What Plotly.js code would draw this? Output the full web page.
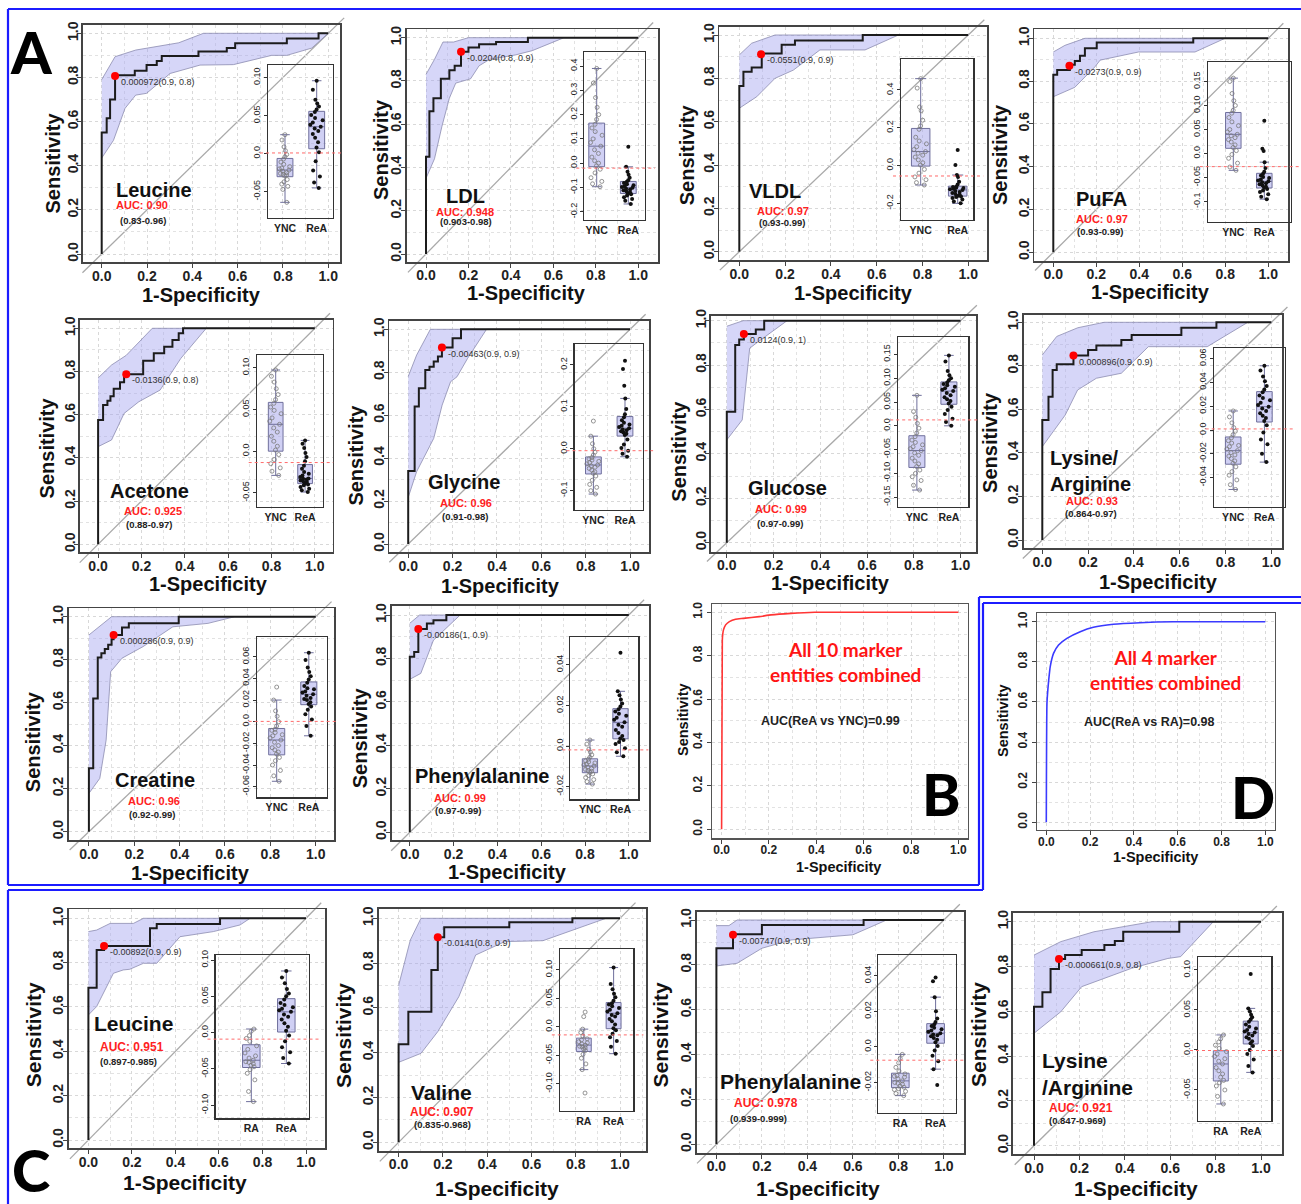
<!DOCTYPE html>
<html><head><meta charset="utf-8">
<script src="https://cdn.plot.ly/plotly-3.0.1.min.js"></script>
<style>html,body{margin:0;padding:0;background:#fff}#chart{width:1301px;height:1204px}</style>
</head><body><div id="chart"></div>
<script>
// ================= DATA =================
// 14 single-marker ROC panels: 10 in block A (ReA vs YNC), 4 in block C (ReA vs RA)
const markerNames = ['Leucine','LDL','VLDL','PuFA','Acetone','Glycine','Glucose','Lysine/<br>Arginine','Creatine','Phenylalanine',
                     'Leucine','Valine','Phenylalanine','Lysine<br>/Arginine'];
const aucLabels = ['AUC: 0.90','AUC: 0.948','AUC: 0.97','AUC: 0.97','AUC: 0.925','AUC: 0.96','AUC: 0.99','AUC: 0.93','AUC: 0.96','AUC: 0.99',
                   'AUC: 0.951','AUC: 0.907','AUC: 0.978','AUC: 0.921'];
const ciLabels = ['(0.83-0.96)','(0.903-0.98)','(0.93-0.99)','(0.93-0.99)','(0.88-0.97)','(0.91-0.98)','(0.97-0.99)','(0.864-0.97)','(0.92-0.99)','(0.97-0.99)',
                  '(0.897-0.985)','(0.835-0.968)','(0.939-0.999)','(0.847-0.969)'];
const groupNamesA = ['YNC','ReA'];
const groupNamesC = ['RA','ReA'];

// ROC step curves (1-specificity, sensitivity)
const rocFpr = [
 [0,0,0.022,0.037,0.059,0.146,0.198,0.243,0.265,0.427,0.552,0.589,0.817,0.957,1],
 [0,0,0.016,0.035,0.07,0.11,0.135,0.165,0.2,0.25,0.33,0.48,1],
 [0,0,0.018,0.054,0.098,0.185,0.243,0.539,1],
 [0,0,0.018,0.077,0.1,0.124,0.147,0.202,0.651,1],
 [0,0,0.023,0.043,0.057,0.072,0.101,0.12,0.13,0.208,0.257,0.305,0.343,0.372,0.392,1],
 [0,0,0.029,0.048,0.077,0.096,0.115,0.134,0.152,0.2,0.238,1],
 [0,0,0.036,0.053,0.073,0.124,0.16,1],
 [0,0,0.027,0.045,0.063,0.136,0.2,0.236,0.345,0.39,0.607,0.76,1],
 [0,0,0.019,0.039,0.055,0.07,0.085,0.1,0.109,0.146,0.176,0.396,1],
 [0,0,0.02,0.039,0.078,0.108,0.167,1],
 [0,0,0.038,0.072,0.283,0.314,0.605,1],
 [0,0,0.044,0.148,0.177,0.206,0.5,0.785,1],
 [0,0,0.073,0.2,0.647,1],
 [0,0,0.037,0.073,0.11,0.137,0.21,0.31,0.356,0.393,0.64,1]
];
const rocTpr = [
 [0,0.55,0.615,0.70,0.81,0.83,0.856,0.874,0.897,0.918,0.933,0.955,0.977,1,1],
 [0,0.45,0.66,0.72,0.81,0.85,0.87,0.935,0.955,0.97,0.98,1,1],
 [0,0.765,0.83,0.85,0.915,0.955,0.975,1,1],
 [0,0.83,0.852,0.876,0.894,0.918,0.954,0.98,1,1],
 [0,0.575,0.645,0.665,0.685,0.72,0.75,0.775,0.787,0.85,0.884,0.915,0.946,0.977,1,1],
 [0,0.34,0.64,0.725,0.81,0.826,0.85,0.873,0.915,0.958,1,1],
 [0,0.59,0.89,0.915,0.94,0.96,1,1],
 [0,0.551,0.658,0.781,0.807,0.847,0.873,0.893,0.919,0.942,0.975,1,1],
 [0,0.295,0.62,0.81,0.83,0.85,0.87,0.895,0.915,0.95,0.97,1,1],
 [0,0.808,0.83,0.936,0.961,0.976,1,1],
 [0,0.687,0.857,0.875,0.955,0.974,1,1],
 [0,0.4375,0.583,0.769,0.915,0.96,0.982,1,1],
 [0,0.874,0.936,0.978,1,1],
 [0,0.62,0.685,0.789,0.833,0.851,0.874,0.896,0.914,0.955,1,1]
];
// Confidence band of sensitivity: upper and lower edges
const ciUpX = [
 [0,0.059,0.15,0.34,0.449,1],[0,0.04,0.08,0.13,0.2,1],[0,0.054,0.156,1],[0,0.054,0.147,1],
 [0,0.062,0.13,0.25,1],[0,0.038,0.1,1],[0,0.07,1],[0,0.063,0.155,0.27,1],[0,0.1,1],[0,0.045,1],
 [0,0.038,0.1,0.207,0.253,1],[0,0.053,0.101,1],[0,0.055,0.091,1],[0,0.118,0.264,0.43,0.52,1]
];
const ciUpY = [
 [0.79,0.894,0.924,0.957,1,1],[0.83,0.9,0.98,0.98,1,1],[0.908,0.962,1,1],[0.936,0.967,1,1],
 [0.77,0.83,0.875,1,1],[0.78,0.88,1,1],[0.975,1,1],[0.85,0.935,0.975,1,1],[0.915,1,1],[0.962,1,1],
 [0.94,0.947,0.977,0.977,1,1],[0.7,0.903,1,1],[0.975,0.975,1,1],[0.851,0.911,0.955,0.985,1,1]
];
const ciLoX = [
 [0,0.052,0.103,0.15,0.198,0.302,0.434,0.581,0.75,0.817,0.927,1],
 [0,0.04,0.075,0.11,0.14,0.21,0.25,0.3,0.42,0.5,0.65,1],
 [0,0.076,0.156,0.236,0.352,0.549,0.695,1],
 [0,0.1,0.194,0.218,0.396,0.659,0.799,1],
 [0,0.062,0.12,0.188,0.286,0.382,0.499,1],
 [0,0.038,0.115,0.153,0.191,0.22,0.268,0.353,1],
 [0,0.066,0.098,0.134,0.258,1],
 [0,0.1,0.154,0.236,0.345,0.463,0.72,0.897,1],
 [0,0.048,0.076,0.096,0.146,0.239,0.37,0.525,0.643,1],
 [0,0.05,0.108,0.23,1],
 [0,0.038,0.115,0.16,0.19,0.253,0.314,0.421,0.574,0.697,0.743,1],
 [0,0.101,0.177,0.272,0.348,0.48,0.652,0.937,1],
 [0,0.091,0.2,0.328,0.6,0.748,1],
 [0,0.118,0.21,0.29,0.43,0.59,0.646,0.79,1]
];
const ciLoY = [
 [0.435,0.515,0.66,0.72,0.728,0.818,0.856,0.858,0.9,0.9,0.933,1],
 [0.35,0.44,0.59,0.72,0.79,0.81,0.87,0.9,0.92,0.94,1,1],
 [0.662,0.715,0.8,0.838,0.931,0.931,1,1],
 [0.727,0.771,0.867,0.898,0.936,0.936,1,1],
 [0.452,0.483,0.606,0.66,0.714,0.861,1,1],
 [0.217,0.337,0.492,0.647,0.756,0.779,0.865,1,1],
 [0.463,0.553,0.876,0.905,1,1],
 [0.429,0.574,0.689,0.743,0.766,0.888,0.888,1,1],
 [0.178,0.248,0.426,0.744,0.807,0.861,0.953,0.969,1,1],
 [0.704,0.731,0.884,1,1],
 [0.564,0.602,0.752,0.767,0.77,0.797,0.797,0.917,0.94,0.97,1,1],
 [0.357,0.397,0.494,0.65,0.836,0.896,0.9,1,1],
 [0.795,0.807,0.874,0.911,0.934,1,1],
 [0.502,0.598,0.71,0.74,0.792,0.836,0.844,1,1]
];
// Optimal cut-off points
const optX = [0.059,0.165,0.095,0.075,0.13,0.152,0.073,0.136,0.109,0.039,0.072,0.177,0.073,0.11];
const optY = [0.806,0.935,0.911,0.872,0.787,0.915,0.94,0.847,0.915,0.936,0.875,0.915,0.934,0.833];
const optLabels = ['0.000972(0.9, 0.8)','-0.0204(0.8, 0.9)','-0.0551(0.9, 0.9)','-0.0273(0.9, 0.9)','-0.0136(0.9, 0.8)','-0.00463(0.9, 0.9)',
                   '0.0124(0.9, 1)','0.000896(0.9, 0.9)','0.000286(0.9, 0.9)','-0.00186(1, 0.9)','-0.00892(0.9, 0.9)','-0.0141(0.8, 0.9)',
                   '-0.00747(0.9, 0.9)','-0.000661(0.9, 0.8)'];
const cutoffs = [0.000972,-0.0204,-0.0551,-0.0273,-0.0136,-0.00463,0.0124,0.000896,0.000286,-0.00186,-0.00892,-0.0141,-0.00747,-0.000661];

// Inset boxplot values: control group (YNC or RA) and ReA
const ctrlVals = [
 [-0.064,-0.047,-0.043,-0.040,-0.037,-0.034,-0.029,-0.028,-0.027,-0.026,-0.025,-0.023,-0.0215,-0.020,-0.019,-0.017,-0.014,-0.011,-0.007,-0.004,-0.001,0.004,0.009,0.018,0.025],
 [-0.097,-0.085,-0.075,-0.06,-0.04,-0.025,-0.011,0.0,0.01,0.025,0.04,0.055,0.070,0.085,0.10,0.115,0.13,0.145,0.16,0.18,0.2,0.23,0.27,0.33,0.39],
 [-0.103,-0.09,-0.075,-0.06,-0.04,-0.02,0.003,0.015,0.03,0.045,0.055,0.065,0.074,0.085,0.1,0.115,0.13,0.15,0.192,0.21,0.24,0.29,0.31,0.41,0.46],
 [-0.035,-0.028,-0.02,-0.01,-0.002,0.006,0.0125,0.018,0.024,0.029,0.033,0.037,0.040,0.045,0.05,0.058,0.066,0.075,0.084,0.09,0.1,0.11,0.125,0.15,0.157],
 [-0.029,-0.024,-0.02,-0.015,-0.01,-0.004,0.0014,0.006,0.012,0.018,0.023,0.028,0.0323,0.036,0.04,0.045,0.049,0.053,0.0575,0.062,0.068,0.075,0.083,0.09,0.0975],
 [-0.108,-0.1,-0.092,-0.085,-0.075,-0.065,-0.0585,-0.055,-0.051,-0.047,-0.044,-0.041,-0.0387,-0.036,-0.033,-0.03,-0.027,-0.024,-0.021,-0.015,-0.008,0.0,0.012,0.03,0.066],
 [-0.135,-0.125,-0.115,-0.107,-0.1,-0.093,-0.0857,-0.08,-0.074,-0.068,-0.062,-0.057,-0.052,-0.048,-0.044,-0.04,-0.035,-0.03,-0.0228,-0.015,-0.005,0.005,0.018,0.03,0.064],
 [-0.05,-0.046,-0.042,-0.038,-0.035,-0.031,-0.028,-0.026,-0.024,-0.022,-0.021,-0.019,-0.0174,-0.016,-0.014,-0.013,-0.011,-0.009,-0.0065,-0.004,-0.001,0.002,0.006,0.011,0.016],
 [-0.055,-0.05,-0.045,-0.04,-0.036,-0.033,-0.0298,-0.028,-0.026,-0.024,-0.022,-0.019,-0.0169,-0.015,-0.013,-0.012,-0.01,-0.008,-0.007,-0.004,0.0,0.005,0.01,0.02,0.032],
 [-0.0187,-0.0175,-0.0165,-0.0155,-0.0145,-0.0137,-0.0129,-0.0124,-0.012,-0.0115,-0.011,-0.0104,-0.0098,-0.0093,-0.0088,-0.0083,-0.0078,-0.0072,-0.0065,-0.0055,-0.0043,-0.003,-0.0015,0.001,0.003],
 [-0.095,-0.081,-0.065,-0.056,-0.051,-0.047,-0.045,-0.043,-0.041,-0.04,-0.038,-0.035,-0.032,-0.028,-0.023,-0.0182,-0.012,-0.008,-0.004,0.002,0.005],
 [-0.116,-0.075,-0.065,-0.055,-0.048,-0.0415,-0.039,-0.037,-0.035,-0.034,-0.032,-0.03,-0.028,-0.026,-0.023,-0.021,-0.016,-0.01,-0.004,0.018,0.026],
 [-0.0274,-0.0262,-0.025,-0.024,-0.0235,-0.0227,-0.022,-0.021,-0.0205,-0.02,-0.0191,-0.018,-0.017,-0.0165,-0.016,-0.0152,-0.0135,-0.0115,-0.009,-0.0065,-0.0042],
 [-0.0675,-0.058,-0.05,-0.045,-0.041,-0.038,-0.034,-0.03,-0.026,-0.022,-0.0175,-0.014,-0.011,-0.008,-0.005,-0.002,0.002,0.006,0.01,0.014,0.0188]
];
const reaVals = [
 [-0.045,-0.038,-0.030,-0.022,-0.010,0.002,0.008,0.015,0.021,0.026,0.030,0.033,0.0355,0.038,0.041,0.044,0.047,0.051,0.055,0.058,0.062,0.066,0.071,0.084,0.096],
 [-0.168,-0.155,-0.148,-0.14,-0.133,-0.128,-0.124,-0.12,-0.116,-0.112,-0.108,-0.105,-0.101,-0.098,-0.095,-0.091,-0.087,-0.082,-0.077,-0.07,-0.06,-0.048,-0.035,-0.015,0.068],
 [-0.2,-0.19,-0.18,-0.172,-0.166,-0.163,-0.161,-0.155,-0.15,-0.145,-0.14,-0.135,-0.129,-0.125,-0.122,-0.119,-0.116,-0.114,-0.112,-0.1,-0.085,-0.06,-0.05,0.003,0.083],
 [-0.095,-0.09,-0.085,-0.08,-0.077,-0.074,-0.071,-0.069,-0.066,-0.064,-0.062,-0.06,-0.058,-0.056,-0.054,-0.051,-0.049,-0.046,-0.0423,-0.038,-0.03,-0.018,0.005,0.01,0.068],
 [-0.049,-0.047,-0.045,-0.043,-0.041,-0.04,-0.0385,-0.037,-0.036,-0.035,-0.034,-0.033,-0.0326,-0.031,-0.029,-0.027,-0.025,-0.021,-0.0174,-0.012,-0.007,-0.002,0.004,0.009,0.013],
 [-0.019,-0.012,-0.005,0.002,0.01,0.022,0.033,0.036,0.039,0.042,0.044,0.046,0.049,0.052,0.055,0.058,0.062,0.068,0.075,0.082,0.095,0.12,0.15,0.19,0.21],
 [0.0,0.008,0.015,0.025,0.033,0.04,0.047,0.052,0.056,0.06,0.064,0.069,0.073,0.076,0.079,0.082,0.085,0.088,0.091,0.096,0.1,0.106,0.115,0.135,0.148],
 [-0.027,-0.02,-0.012,-0.008,-0.002,0.004,0.0076,0.01,0.012,0.014,0.016,0.018,0.0196,0.021,0.023,0.025,0.027,0.029,0.0317,0.034,0.037,0.041,0.045,0.05,0.054],
 [-0.013,-0.004,0.002,0.007,0.011,0.014,0.0163,0.018,0.02,0.021,0.022,0.024,0.0253,0.027,0.028,0.03,0.031,0.033,0.036,0.039,0.042,0.046,0.05,0.057,0.0637],
 [-0.005,-0.003,-0.001,0.001,0.002,0.003,0.0038,0.005,0.0065,0.008,0.0095,0.0105,0.0117,0.013,0.014,0.015,0.016,0.017,0.0181,0.0195,0.021,0.023,0.025,0.027,0.046],
 [-0.0425,-0.035,-0.027,-0.02,-0.012,-0.004,0.0025,0.008,0.013,0.018,0.022,0.025,0.0287,0.031,0.033,0.035,0.038,0.041,0.0458,0.05,0.054,0.06,0.068,0.076,0.085],
 [-0.047,-0.035,-0.025,-0.018,-0.012,-0.006,-0.0023,0.004,0.01,0.014,0.018,0.021,0.024,0.027,0.03,0.033,0.036,0.039,0.0415,0.046,0.052,0.058,0.066,0.075,0.104],
 [-0.0214,-0.0125,-0.008,-0.005,-0.002,0.0005,0.0026,0.004,0.005,0.006,0.0065,0.007,0.0077,0.0085,0.0093,0.01,0.0108,0.0117,0.0128,0.014,0.016,0.02,0.028,0.037,0.039],
 [-0.028,-0.02,-0.012,-0.005,0.0,0.005,0.0084,0.011,0.014,0.016,0.018,0.02,0.0217,0.023,0.025,0.027,0.029,0.032,0.0354,0.038,0.041,0.044,0.048,0.052,0.095]
];
// Inset y tick labels
const insetTicks = [
 [0.10,0.05,0,-0.05],[0.4,0.3,0.2,0.1,0,-0.1,-0.2],[0.4,0.2,0,-0.2],[0.15,0.10,0.05,0,-0.05,-0.10],
 [0.10,0.05,0,-0.05],[0.2,0.1,0,-0.1],[0.15,0.10,0.05,0,-0.05,-0.10,-0.15],[0.06,0.04,0.02,0,-0.02,-0.04],
 [0.06,0.04,0.02,0,-0.02,-0.04,-0.06],[0.04,0.02,0,-0.02],[0.10,0.05,0,-0.05,-0.10],[0.10,0.05,0,-0.05,-0.10],
 [0.04,0.02,0,-0.02],[0.10,0.05,0,-0.05]
];
const insetTickText = [
 ['0.10','0.05','0.0','-0.05'],['0.4','0.3','0.2','0.1','0.0','-0.1','-0.2'],['0.4','0.2','0.0','-0.2'],['0.15','0.10','0.05','0.0','-0.05','-0.1'],
 ['0.10','0.05','0.0','-0.05'],['0.2','0.1','0.0','-0.1'],['0.15','0.10','0.05','0.0','-0.05','-0.10','-0.15'],['0.06','0.04','0.02','0.0','-0.02','-0.04'],
 ['0.06','0.04','0.02','0.0','-0.02','-0.04','-0.06'],['0.04','0.02','0.0','-0.02'],['0.10','0.05','0.0','-0.05','-0.10'],['0.10','0.05','0.0','-0.05','-0.10'],
 ['0.04','0.02','0.0','-0.02'],['0.10','0.05','0.0','-0.05']
];
// Combined-marker ROC curves (B: all 10 markers, D: all 4 markers)
const combBx = [0,0.003,0.005,0.008,0.017,0.033,0.059,0.092,0.159,0.209,0.293,0.393,1.0];
const combBy = [0,0.87,0.9,0.919,0.942,0.957,0.968,0.972,0.98,0.988,0.995,1.0,1.0];
const combDx = [0,0.003,0.007,0.011,0.018,0.033,0.056,0.094,0.155,0.215,0.306,0.427,0.579,1.0];
const combDy = [0,0.593,0.66,0.709,0.776,0.842,0.884,0.917,0.95,0.972,0.987,0.995,1.0,1.0];
const combTitles = ['All 10 marker<br>entities combined','All 4 marker<br>entities combined'];
const combAuc = ['AUC(ReA vs YNC)=0.99','AUC(ReA vs RA)=0.98'];

// ================= LAYOUT SPECS (pixels) =================
// main plot frames in axis order 1..16: [L,R,T,B, px of x=0, px of x=1, py of y=1, py of y=0]
const MAIN_FRAMES = [
 [83,340,25,262,101.7,328.3,33.3,254],
 [406.7,658.3,29.3,261.7,426,638.3,37.7,254],
 [719.3,987.3,26.7,260,739.3,968.3,35,251.7],
 [1034.3,1287.7,29.3,260.7,1053.3,1268.3,38.3,252.3],
 [80,332.5,320,552.3,98.1,314.8,328.3,544.3],
 [389.3,649.4,320.7,552.3,408.2,630.1,329.3,544],
 [711,975.9,316,551.7,726.8,960.5,320.7,542.7],
 [1023.6,1281.8,315,548.3,1042.3,1271.4,322.3,540],
 [68.5,333.9,608.3,840,88.9,315.7,616.7,831.7],
 [391.6,649.2,606,840,409.8,628.8,615,832.3],
 [711.7,967.9,604,838.3,721.6,958.4,612.3,829.3],
 [1037.2,1274.9,613.3,830,1046.3,1265.3,621.7,822.3],
 [68.6,324.9,909.3,1148.3,88.4,306,918.3,1140],
 [378.8,646,909,1150.7,398.6,620,918.3,1142.3],
 [696.5,964.2,911.7,1152.7,716.4,943.9,920,1144.3],
 [1013.2,1281.8,912.7,1154.3,1034,1261,921.7,1145.7]
];
// axis title centres [sensX, sensY, specX, specY]
const TITLE_POS = [
 [52.5,163,202,295],[381,150,526.7,293.3],[687.3,155,853.3,292.7],[1000,155,1150,291.7],
 [47.1,448.3,208.3,584],[355.6,455,500.8,585.5],[679,451.7,830.6,583.5],[990.4,442.5,1158.5,581.5],
 [32.5,741.7,190.8,872.5],[360,738.3,507.4,871.5],[683,720,838.4,866.7],[1003,720,1155,857],
 [33.3,1035,185,1182.7],[343,1035,496.6,1188.3],[660.4,1035,818.1,1188.3],[978,1035,1135.7,1188.3]
];
// inset frames [L,R,T,B, xrange0, xrange1, yrange0, yrange1]
const INSET_FRAMES = [
 [268,333,65,218,-0.536,1.514,-0.0846,0.1167],
 [584.3,645,51.7,220,-0.392,1.528,-0.234,0.459],
 [901,973.3,59,220,-0.532,1.422,-0.288,0.564],
 [1207.7,1291,62.3,221.7,-0.826,1.861,-0.142,0.190],
 [256.7,323.2,355,506.7,-0.646,1.616,-0.0666,0.1155],
 [574.5,643.1,344.3,510,-0.598,1.573,-0.146,0.249],
 [898.2,968.4,337.3,506.7,-0.584,1.609,-0.170,0.186],
 [1213.7,1285.1,348.3,506.7,-0.625,1.663,-0.0645,0.0687],
 [256.7,326.5,636.7,797.3,-0.623,1.551,-0.0698,0.0785],
 [570.3,638.3,636.7,799.3,-0.644,1.584,-0.0262,0.0539],
 [215.5,308.5,955,1118.3,-1.023,1.634,-0.118,0.107],
 [559.8,633.4,949.3,1110.7,-0.805,1.664,-0.147,0.136],
 [878.3,955.9,955,1112.7,-0.623,1.575,-0.037,0.0517],
 [1198,1271.4,956.7,1120.7,-0.763,1.692,-0.0884,0.1166]
];
// text placements in ROC data coordinates [nameX,nameY,aucX,aucY,ciX,ciY]
const TEXT_POS = [
 [0.232,0.291,0.178,0.223,0.181,0.150],[0.184,0.270,0.184,0.194,0.188,0.150],[0.156,0.279,0.192,0.190,0.185,0.134],
 [0.225,0.250,0.225,0.154,0.217,0.096],[0.237,0.249,0.253,0.154,0.234,0.090],[0.252,0.288,0.262,0.192,0.256,0.128],
 [0.258,0.247,0.231,0.150,0.227,0.088],[0.024,0.316,0.217,0.177,0.213,0.123],[0.291,0.241,0.289,0.142,0.279,0.081],
 [0.333,0.257,0.228,0.159,0.222,0.099],[0.206,0.524,0.199,0.419,0.184,0.352],[0.196,0.224,0.196,0.135,0.200,0.081],
 [0.325,0.280,0.219,0.184,0.186,0.116],[0.027,0.319,0.205,0.170,0.192,0.114]
];

// ================= BUILD =================
const W = 1301, H = 1204;
const pxX = x => x / W, pxY = y => 1 - y / H;
const FONT = 'Liberation Sans, Arial, Helvetica, sans-serif';
const GEO = 'Lato, Open Sans, sans-serif';
const axKey = (l, n) => l + 'axis' + (n === 1 ? '' : n);
const axId = (l, n) => l + (n === 1 ? '' : n);

const layout = {
  width: W, height: H, autosize: false, margin: {l:0, r:0, t:0, b:0},
  paper_bgcolor: '#ffffff', plot_bgcolor: 'rgba(0,0,0,0)', showlegend: false,
  hovermode: false, boxmode: 'overlay', shapes: [], annotations: []
};
const traces = [];

// main ROC axes
MAIN_FRAMES.forEach((f, i) => {
  const n = i + 1;
  const [L, R, T, B, x0, x1, y1, y0] = f;
  const combined = (n === 11 || n === 12);
  const xr = [(L - x0) / (x1 - x0), (R - x0) / (x1 - x0)];
  const yr = [(y0 - B) / (y0 - y1), (y0 - T) / (y0 - y1)];
  const common = {
    showline: true, mirror: true, linecolor: combined ? '#555' : '#444', linewidth: combined ? 1.2 : 1.8,
    ticks: 'outside', ticklen: 4, tickwidth: 1, tickcolor: '#444',
    tickmode: 'linear', tick0: 0, dtick: 0.2, tickformat: '.1f',
    tickfont: {family: FONT, size: combined ? 12 : 14, color: '#222', weight: 'bold'},
    showgrid: true, gridcolor: '#d8d8d8', griddash: 'dot', gridwidth: 1, zeroline: false, fixedrange: true,
    minor: {dtick: 0.1, tick0: 0, showgrid: true, gridcolor: '#e2e2e2', griddash: 'dot', gridwidth: 1, ticks: ''}
  };
  layout[axKey('x', n)] = Object.assign({}, common, {domain: [pxX(L), pxX(R)], range: xr, anchor: axId('y', n),
    ticklabelstandoff: -4});
  layout[axKey('y', n)] = Object.assign({}, common, {domain: [pxY(B), pxY(T)], range: yr, anchor: axId('x', n),
    tickangle: -90, ticklabelstandoff: combined ? 0 : -6});

  const tp = TITLE_POS[i];
  const tsize = combined ? 14.5 : (n >= 13 ? 21 : 20);
  layout.annotations.push({xref: 'paper', yref: 'paper', x: pxX(tp[0]), y: pxY(tp[1]), text: 'Sensitivity', textangle: -90,
    showarrow: false, xanchor: 'center', yanchor: 'middle', font: {family: FONT, size: tsize, color: '#111', weight: 'bold'}});
  layout.annotations.push({xref: 'paper', yref: 'paper', x: pxX(tp[2]), y: pxY(tp[3]), text: '1-Specificity',
    showarrow: false, xanchor: 'center', yanchor: 'middle', font: {family: FONT, size: tsize, color: '#111', weight: 'bold'}});

  if (!combined) {
    // chance diagonal (runs slightly beyond the frame like the original)
    const vA = -0.085, vB = 1.07;
    layout.shapes.push({type: 'line', xref: 'paper', yref: 'paper', layer: 'below',
      x0: pxX(x0 + vA * (x1 - x0)), y0: pxY(y0 - vA * (y0 - y1)),
      x1: pxX(x0 + vB * (x1 - x0)), y1: pxY(y0 - vB * (y0 - y1)),
      line: {color: '#a9a9a9', width: 1.3}});
  }
});

// single marker panels
for (let k = 0; k < 14; k++) {
  const n = k < 10 ? k + 1 : k + 3;
  const xa = axId('x', n), ya = axId('y', n);
  const bandX = ciUpX[k].concat(ciLoX[k].slice().reverse());
  const bandY = ciUpY[k].concat(ciLoY[k].slice().reverse());
  traces.push({type: 'scatter', mode: 'lines', x: bandX, y: bandY, xaxis: xa, yaxis: ya, fill: 'toself',
    fillcolor: 'rgba(165,165,240,0.45)', line: {color: '#8c8cb0', width: 0.8}, hoverinfo: 'skip'});
  traces.push({type: 'scatter', mode: 'lines', x: rocFpr[k], y: rocTpr[k], xaxis: xa, yaxis: ya,
    line: {color: '#1c1c1c', width: 2, shape: 'hv'}, hoverinfo: 'skip'});
  traces.push({type: 'scatter', mode: 'markers', x: [optX[k]], y: [optY[k]], xaxis: xa, yaxis: ya,
    marker: {color: '#ff0000', size: 8}, cliponaxis: false, hoverinfo: 'skip'});

  const tpz = TEXT_POS[k];
  const leftName = markerNames[k].indexOf('<br>') >= 0;
  layout.annotations.push({xref: xa, yref: ya, x: tpz[0], y: tpz[1], text: markerNames[k], showarrow: false,
    xanchor: leftName ? 'left' : 'center', yanchor: 'middle', align: 'left',
    font: {family: FONT, size: k >= 10 ? 21 : 20, color: '#111', weight: 'bold'}});
  layout.annotations.push({xref: xa, yref: ya, x: tpz[2], y: tpz[3], text: aucLabels[k], showarrow: false,
    xanchor: 'center', yanchor: 'middle', font: {family: FONT, size: k >= 10 ? 12 : 11, color: '#ff2222', weight: 'bold'}});
  layout.annotations.push({xref: xa, yref: ya, x: tpz[4], y: tpz[5], text: ciLabels[k], showarrow: false,
    xanchor: 'center', yanchor: 'middle', font: {family: FONT, size: 9.5, color: '#222', weight: 'bold'}});
  layout.annotations.push({xref: xa, yref: ya, x: optX[k], y: optY[k], text: optLabels[k], showarrow: false,
    xanchor: 'left', yanchor: 'middle', xshift: 4, yshift: -6, font: {family: FONT, size: 9, color: '#333'}});

  // inset boxplot
  const m = 17 + k;
  const f = INSET_FRAMES[k];
  const names = k < 10 ? groupNamesA : groupNamesC;
  const ixa = axId('x', m), iya = axId('y', m);
  layout[axKey('x', m)] = {domain: [pxX(f[0]), pxX(f[1])], range: [f[4], f[5]], anchor: iya,
    showline: true, mirror: true, linecolor: '#333', linewidth: 1.2, ticks: '', tickmode: 'array',
    tickvals: [0, 1], ticktext: names, tickfont: {family: FONT, size: 10.5, color: '#222', weight: 'bold'},
    showgrid: false, zeroline: false, fixedrange: true};
  layout[axKey('y', m)] = {domain: [pxY(f[3]), pxY(f[2])], range: [f[6], f[7]], anchor: ixa,
    showline: true, mirror: true, linecolor: '#333', linewidth: 1.2, ticks: 'outside', ticklen: 3, tickcolor: '#333',
    tickmode: 'array', tickvals: insetTicks[k], ticktext: insetTickText[k], tickangle: -90,
    tickfont: {family: FONT, size: 9, color: '#222'}, showgrid: false, zeroline: false, fixedrange: true};
  const boxCommon = {type: 'box', xaxis: ixa, yaxis: iya, boxpoints: 'all', jitter: 0.85, pointpos: 0, width: 0.5,
    whiskerwidth: 0.6, fillcolor: 'rgba(170,170,235,0.55)', line: {color: '#6f6f9c', width: 1}, hoverinfo: 'skip'};
  traces.push(Object.assign({}, boxCommon, {y: ctrlVals[k], x0: 0, name: names[0],
    marker: {symbol: 'circle-open', size: 4, color: '#7a7a7a', line: {width: 0.8}}}));
  traces.push(Object.assign({}, boxCommon, {y: reaVals[k], x0: 1, name: names[1],
    marker: {symbol: 'circle', size: 4, color: '#111'}}));
  // cut-off line
  layout.shapes.push({type: 'line', xref: 'paper', yref: iya, x0: pxX(f[0] - 8), x1: pxX(f[1] + 10),
    y0: cutoffs[k], y1: cutoffs[k], line: {color: '#ff6a6a', width: 1, dash: 'dot'}});
}

// combined ROC curves B and D
traces.push({type: 'scatter', mode: 'lines', x: combBx, y: combBy, xaxis: 'x11', yaxis: 'y11',
  line: {color: '#ff3535', width: 1.6, shape: 'spline', smoothing: 0.5}, hoverinfo: 'skip'});
traces.push({type: 'scatter', mode: 'lines', x: combDx, y: combDy, xaxis: 'x12', yaxis: 'y12',
  line: {color: '#3a3aff', width: 1.6, shape: 'spline', smoothing: 0.5}, hoverinfo: 'skip'});
[[11, 0.523, 0.77, 0.46, 0.499, 'B', 0.928, 0.166], [12, 0.542, 0.761, 0.47, 0.501, 'D', 0.945, 0.128]].forEach((c, j) => {
  const xa = axId('x', c[0]), ya = axId('y', c[0]);
  layout.annotations.push({xref: xa, yref: ya, x: c[1], y: c[2], text: combTitles[j], showarrow: false,
    xanchor: 'center', yanchor: 'middle', font: {family: GEO, size: 19, color: '#ff1414', weight: 'bold'}});
  layout.annotations.push({xref: xa, yref: ya, x: c[3], y: c[4], text: combAuc[j], showarrow: false,
    xanchor: 'center', yanchor: 'middle', font: {family: FONT, size: 12.5, color: '#222', weight: 'bold'}});
  layout.annotations.push({xref: xa, yref: ya, x: c[6], y: c[7], text: c[5], showarrow: false,
    xanchor: 'center', yanchor: 'middle', font: {family: GEO, size: 58, color: '#000', weight: 900}});
});
// panel letters A and C
[['A', 31.7, 51.7], ['C', 30.7, 1169.3]].forEach(p => {
  layout.annotations.push({xref: 'paper', yref: 'paper', x: pxX(p[1]), y: pxY(p[2]), text: p[0], showarrow: false,
    xanchor: 'center', yanchor: 'middle', font: {family: GEO, size: 58, color: '#000', weight: 900}});
});

// blue framing lines
const BLUE = [
 [8,9,1301,9],[8,9,8,885],[8,885,979,885],[979,885,979,597],[979,597,1301,597],
 [983,603,1301,603],[983,603,983,890],[983,890,8,890],[8,890,8,1204]
];
BLUE.forEach(b => layout.shapes.push({type: 'line', xref: 'paper', yref: 'paper',
  x0: pxX(b[0]), y0: pxY(b[1]), x1: pxX(b[2]), y1: pxY(b[3]), line: {color: '#1c1cff', width: 2.2}}));

Plotly.newPlot('chart', traces, layout, {staticPlot: true, displayModeBar: false});
</script>
</body></html>
